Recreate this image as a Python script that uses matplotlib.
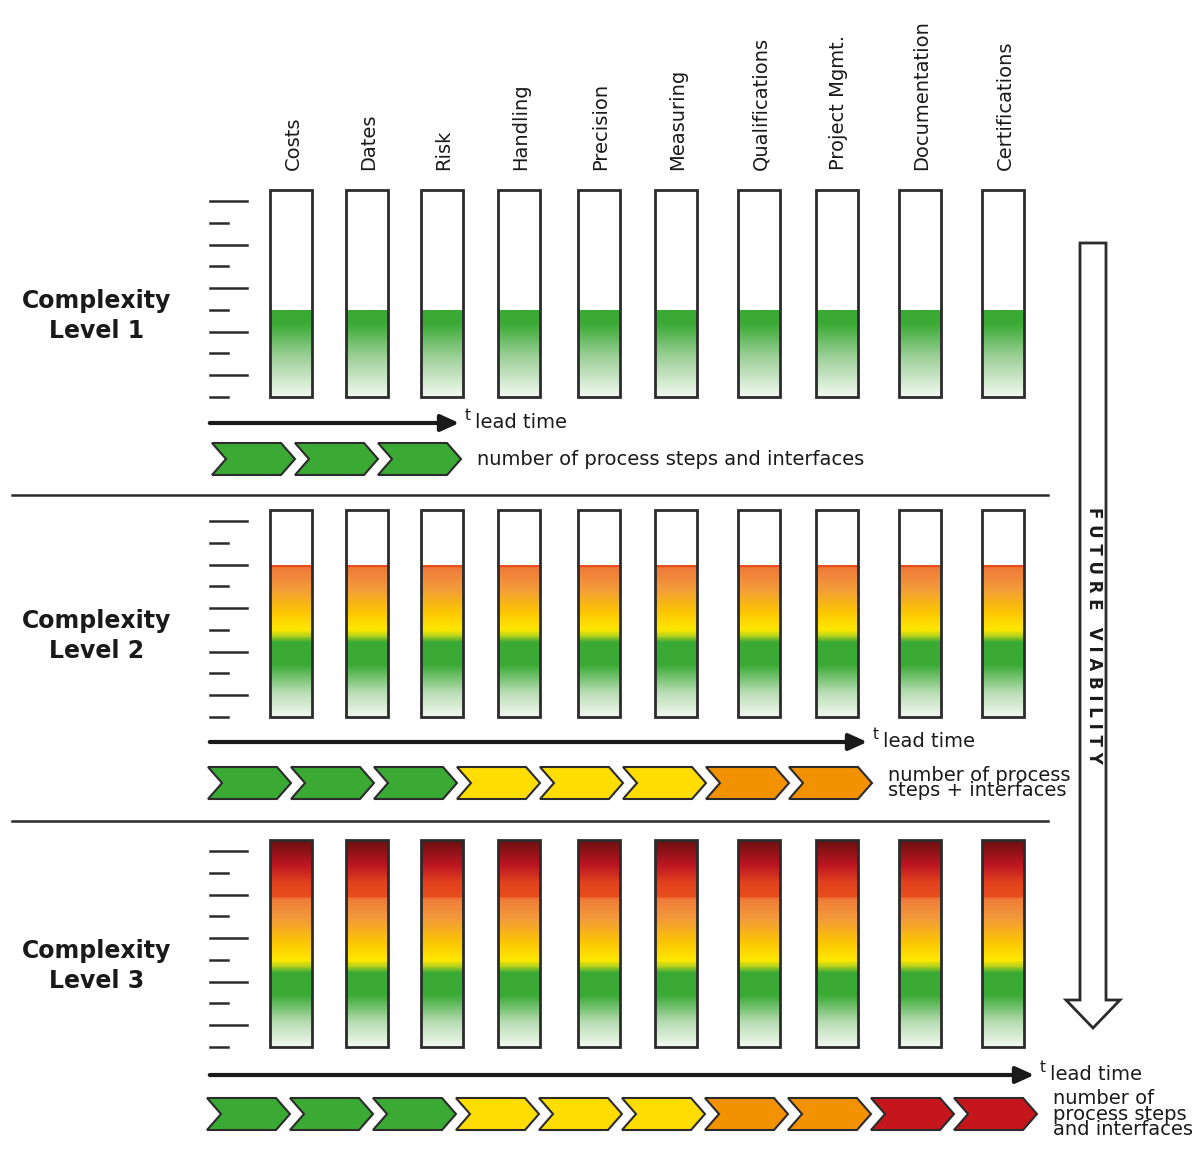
import numpy as np
import matplotlib
matplotlib.use("Agg")
import matplotlib.pyplot as plt
from matplotlib.colors import LinearSegmentedColormap
from matplotlib.patches import Polygon, Rectangle

# data
categories = ["Costs", "Dates", "Risk", "Handling", "Precision", "Measuring",
              "Qualifications", "Project Mgmt.", "Documentation", "Certifications"]
col_left = [270, 346, 421, 498, 578, 655, 738, 816, 899, 982]
levels = ["Complexity\nLevel 1", "Complexity\nLevel 2", "Complexity\nLevel 3"]
fill_frac = [0.42, 0.73, 1.0]
step_colors = [
    ["green"] * 3,
    ["green"] * 3 + ["yellow"] * 3 + ["orange"] * 2,
    ["green"] * 3 + ["yellow"] * 3 + ["orange"] * 2 + ["red"] * 2,
]
step_text = ["number of process steps and interfaces",
             "number of process\nsteps + interfaces",
             "number of\nprocess steps\nand interfaces"]
palette = {"green": "#3aaa35", "yellow": "#ffdd00", "orange": "#f39200", "red": "#c4161c"}

bar_top = [190, 510, 840]
bar_h = 207
bar_w = 42
arrow_y = [423, 742, 1075]
arrow_end = [462, 870, 1037]
chev_y = [443, 767, 1098]
chev_x0 = [212, 208, 207]
sep_y = [495, 821]

cmap_full = LinearSegmentedColormap.from_list("risk", [
    (0.0, "#f2f8f0"), (0.12, "#b5dcb0"), (0.25, "#3aaa35"), (0.36, "#3aaa35"),
    (0.39, "#b8d21a"), (0.42, "#ffe800"), (0.5, "#fcc800"), (0.62, "#f29a3a"),
    (0.72, "#ef7a3a"), (0.725, "#e84e1b"), (0.8, "#e2401f"), (0.88, "#be1622"),
    (1.0, "#6b1010")])
cmap_green = LinearSegmentedColormap.from_list("g", [
    (0.0, "#f2f8f0"), (0.45, "#9fd19a"), (0.85, "#3aaa35"), (1.0, "#3aaa35")])

fig = plt.figure(figsize=(12, 11.51), dpi=100)
ax = fig.add_axes([0, 0, 1, 1])
ax.set_xlim(0, 1200)
ax.set_ylim(1151, 0)
ax.axis("off")

edge = "#2b2b2b"

for c, x in zip(categories, col_left):
    ax.text(x + bar_w / 2 + 2, 170, c, rotation=90, ha="center", va="bottom",
            fontsize=14, color="#1a1a1a")

for li in range(3):
    top = bar_top[li]
    bottom = top + bar_h
    ftop = bottom - fill_frac[li] * bar_h
    # ticks
    for k in range(10):
        ty = top + 11 + k * (bar_h - 11) / 9
        ax.plot([210, 247 if k % 2 == 0 else 228], [ty, ty], color=edge, lw=1.8)
    for x in col_left:
        if li == 0:
            grad = np.linspace(1, 0, 100).reshape(-1, 1)
            ax.imshow(grad, cmap=cmap_green, aspect="auto", extent=(x, x + bar_w, bottom, ftop),
                      interpolation="bilinear", zorder=2)
        else:
            n = 300
            frac = np.linspace(fill_frac[li], 0, n).reshape(-1, 1)
            ax.imshow(frac, cmap=cmap_full, vmin=0, vmax=1, aspect="auto",
                      extent=(x, x + bar_w, bottom, ftop), interpolation="bilinear", zorder=2)
        ax.add_patch(Rectangle((x, top), bar_w, bar_h, fill=False, ec=edge, lw=2, zorder=3))
    # level label
    ax.text(97, top + 126, levels[li], ha="center", va="center", fontsize=17,
            fontweight="bold", color="#1a1a1a", linespacing=1.3)
    # lead time arrow
    ay = arrow_y[li]
    ax.annotate("", xy=(arrow_end[li], ay), xytext=(207, ay),
                arrowprops=dict(arrowstyle="-|>,head_width=0.5,head_length=1.1",
                                color="#1a1a1a", lw=3))
    ax.text(arrow_end[li] + 3, ay - 8, "t", fontsize=11, ha="left", va="center", color="#1a1a1a")
    ax.text(arrow_end[li] + 13, ay - 1, "lead time", fontsize=14, ha="left", va="center",
            color="#1a1a1a")
    # process steps
    cy = chev_y[li]
    h = 32
    w = 83
    d = 14
    for k, col in enumerate(step_colors[li]):
        x0 = chev_x0[li] + k * w
        pts = [(x0, cy), (x0 + w - d, cy), (x0 + w, cy + h / 2), (x0 + w - d, cy + h),
               (x0, cy + h), (x0 + d, cy + h / 2)]
        ax.add_patch(Polygon(pts, closed=True, fc=palette[col], ec=edge, lw=1.5, zorder=3))
    tx = chev_x0[li] + len(step_colors[li]) * w + 16
    ax.text(tx, cy + h / 2, step_text[li], fontsize=14, ha="left", va="center",
            color="#1a1a1a", linespacing=0.75)

for sy in sep_y:
    ax.plot([12, 1048], [sy, sy], color=edge, lw=1.8)

# future viability arrow
fv = [(1080, 243), (1106, 243), (1106, 1000), (1120, 1000), (1093, 1028),
      (1066, 1000), (1080, 1000)]
ax.add_patch(Polygon(fv, closed=True, fc="white", ec=edge, lw=2, zorder=3))
ax.text(1094, 635, "F U T U R E   V I A B I L I T Y", rotation=-90, ha="center", va="center",
        fontsize=12, fontweight="bold", color="#1a1a1a", zorder=4)

fig.savefig("out.png", dpi=100)
